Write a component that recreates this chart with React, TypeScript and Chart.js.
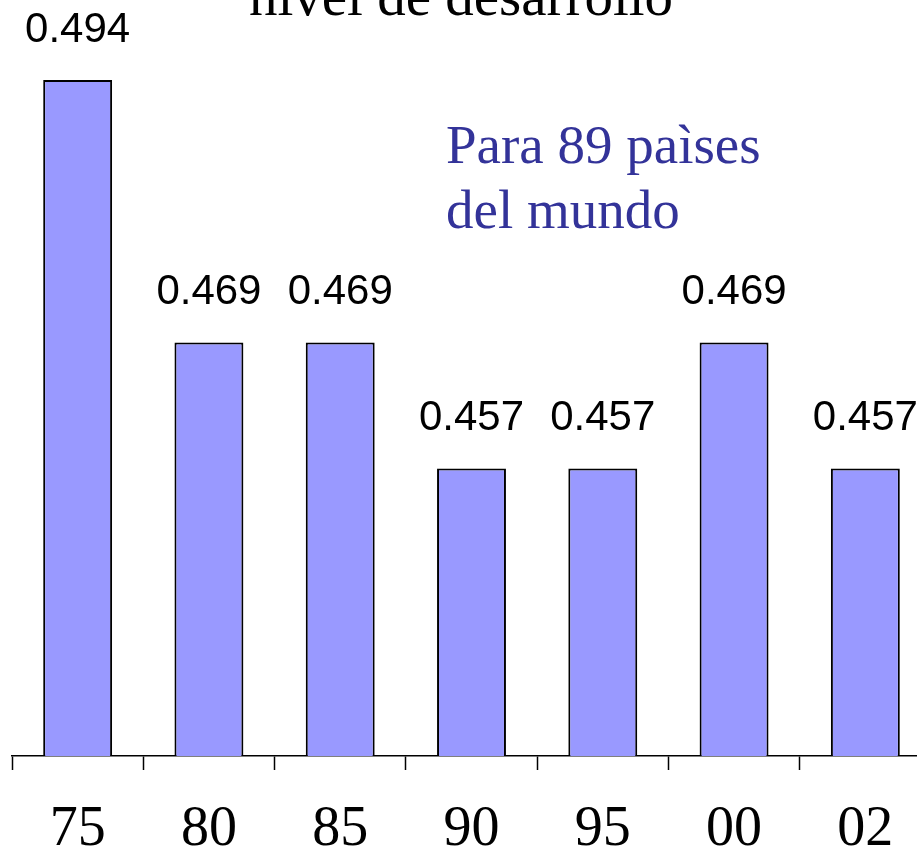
import React, { useEffect, useRef } from "react";
import { Chart, registerables } from "chart.js";

Chart.register(...registerables);

const categories = ["75", "80", "85", "90", "95", "00", "02"];
const values = [0.494, 0.469, 0.469, 0.457, 0.457, 0.469, 0.457];
const titleText = "nivel de desarrollo";
const noteLines = ["Para 89 paìses", "del mundo"];

const overlayPlugin = {
  id: "overlay",
  afterDatasetsDraw(chart: any) {
    const ctx = chart.ctx;
    ctx.save();
    ctx.fillStyle = "#000";
    ctx.font = "42px 'Liberation Sans', Arial, sans-serif";
    ctx.textAlign = "center";
    ctx.textBaseline = "alphabetic";
    const meta = chart.getDatasetMeta(0);
    meta.data.forEach((bar: any, i: number) => {
      ctx.fillText(values[i].toFixed(3), bar.x, bar.y - 38);
    });
    ctx.font = "57px 'Liberation Serif', 'Times New Roman', serif";
    ctx.fillText(titleText, 461, 15);
    ctx.fillStyle = "#333399";
    ctx.font = "55px 'Liberation Serif', 'Times New Roman', serif";
    ctx.textAlign = "left";
    ctx.fillText(noteLines[0], 446, 163);
    ctx.fillText(noteLines[1], 446, 228);
    ctx.restore();
  },
};

export default function App() {
  const ref = useRef<HTMLCanvasElement | null>(null);
  useEffect(() => {
    if (!ref.current) return;
    const chart = new Chart(ref.current, {
      type: "bar",
      data: {
        labels: categories,
        datasets: [
          {
            data: values,
            backgroundColor: "#9999FF",
            borderColor: "#000000",
            borderWidth: 2,
            categoryPercentage: 1,
            barPercentage: 0.525,
          },
        ],
      },
      options: {
        animation: false,
        responsive: false,
        maintainAspectRatio: false,
        layout: { padding: { left: 12, right: 1, top: 17, bottom: 0 } },
        plugins: {
          legend: { display: false },
          tooltip: { enabled: false },
          title: { display: false },
        },
        scales: {
          x: {
            grid: {
              display: true,
              drawOnChartArea: false,
              drawTicks: true,
              tickLength: 14,
              tickWidth: 1.5,
              tickColor: "#000",
              offset: true,
            },
            border: { display: true, color: "#000", width: 1.5 },
            ticks: {
              color: "#000",
              padding: 32,
              maxRotation: 0,
              autoSkip: false,
              font: { family: "'Liberation Serif', 'Times New Roman', serif", size: 56, lineHeight: 1 },
            },
          },
          y: {
            display: false,
            min: 0.4296,
            max: 0.5,
          },
        },
      },
      plugins: [overlayPlugin],
    });
    return () => chart.destroy();
  }, []);
  return (
    <div style={{ position: "absolute", left: 0, top: 0, width: 917, height: 852, overflow: "hidden", background: "#fff" }}>
      <canvas ref={ref} width={932} height={890} style={{ display: "block", width: 932, height: 890 }} />
    </div>
  );
}
